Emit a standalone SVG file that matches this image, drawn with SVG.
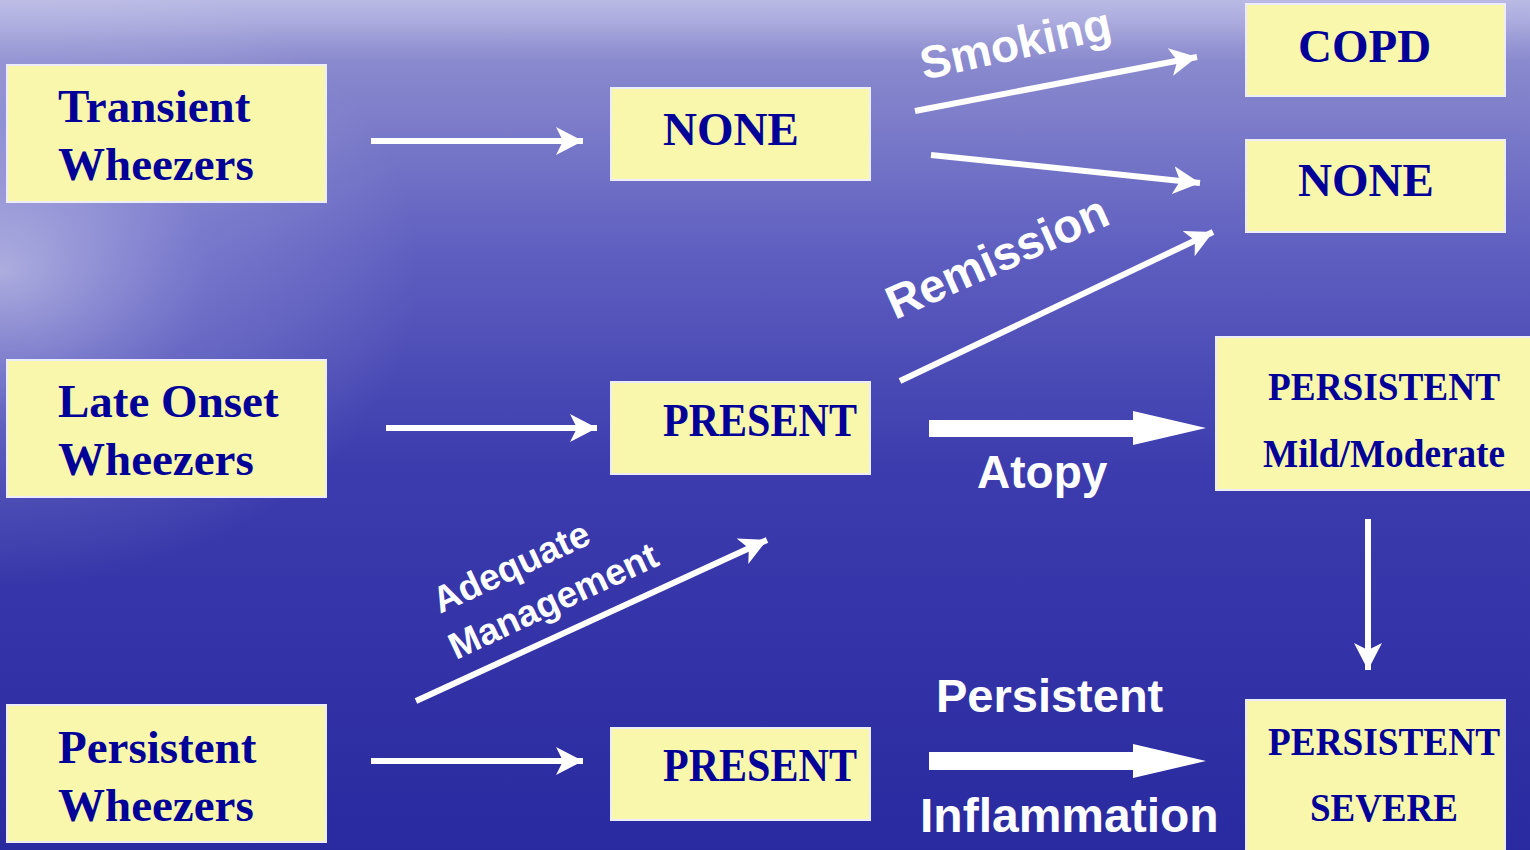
<svg xmlns="http://www.w3.org/2000/svg" width="1530" height="850" viewBox="0 0 1530 850">
<defs>
<linearGradient id="bg" x1="0" y1="0" x2="0" y2="1">
<stop offset="0" stop-color="#A4A4DA"/>
<stop offset="0.05" stop-color="#8E8ED0"/>
<stop offset="0.3" stop-color="#5E5EC0"/>
<stop offset="0.55" stop-color="#3C3CAE"/>
<stop offset="1" stop-color="#2A2AA0"/>
</linearGradient>
<radialGradient id="glow" cx="0" cy="270" r="420" gradientUnits="userSpaceOnUse" gradientTransform="translate(0,270) scale(1,0.75) translate(0,-270)">
<stop offset="0" stop-color="#FFFFFF" stop-opacity="0.5"/>
<stop offset="0.5" stop-color="#E0E0FF" stop-opacity="0.18"/>
<stop offset="1" stop-color="#FFFFFF" stop-opacity="0"/>
</radialGradient>
<linearGradient id="top" x1="0" y1="0" x2="0" y2="1">
<stop offset="0" stop-color="#C8C8EC" stop-opacity="0.6"/>
<stop offset="1" stop-color="#C8C8EC" stop-opacity="0"/>
</linearGradient>
<marker id="ah" markerUnits="userSpaceOnUse" markerWidth="30" markerHeight="30" refX="27" refY="14" orient="auto" viewBox="0 0 30 30">
<path d="M0,0 L27,14 L0,28 L7,14 Z" fill="#FFFFFF"/>
</marker>
<style>
.box{fill:#F9F7AC;stroke:#ECECFA;stroke-width:2}
.nt{font-family:"Liberation Serif","Times New Roman",serif;font-weight:bold;fill:#000099}
.lb{font-family:"Liberation Sans",Arial,sans-serif;font-weight:bold;fill:#FFFFFF}
.ln{stroke:#FFFFFF;stroke-width:6;fill:none;marker-end:url(#ah)}
.thick{fill:#FFFFFF}
</style>
</defs>
<rect x="0" y="0" width="1530" height="850" fill="url(#bg)"/>
<rect x="0" y="0" width="1530" height="60" fill="url(#top)"/>
<rect x="0" y="0" width="1530" height="850" fill="url(#glow)"/>

<g id="connectors">
<line class="ln" x1="371" y1="141" x2="583" y2="141"/>
<line class="ln" x1="386" y1="428" x2="597" y2="428"/>
<line class="ln" x1="371" y1="761" x2="583" y2="761"/>
<line class="ln" x1="915" y1="111" x2="1197" y2="57"/>
<line class="ln" x1="931" y1="155" x2="1200" y2="183"/>
<line class="ln" x1="900" y1="381" x2="1213" y2="232"/>
<line class="ln" x1="416" y1="701" x2="767" y2="540"/>
<line class="ln" x1="1368" y1="519" x2="1368" y2="670"/>
<polygon class="thick" points="929,420 1133,420 1133,411 1206,428 1133,445 1133,437 929,437"/>
<polygon class="thick" points="929,752 1133,752 1133,744 1206,761 1133,778 1133,770 929,770"/>
<text class="lb" font-size="46" transform="translate(924,80) rotate(-12.5)">Smoking</text>
<text class="lb" font-size="47" transform="translate(895,320) rotate(-24)">Remission</text>
<text class="lb" font-size="37" transform="translate(440,614) rotate(-25)">Adequate</text>
<text class="lb" font-size="37" transform="translate(456,660) rotate(-25)">Management</text>
<text class="lb" font-size="46" x="977" y="488">Atopy</text>
<text class="lb" font-size="47" x="936" y="712">Persistent</text>
<text class="lb" font-size="48" x="920" y="832">Inflammation</text>
</g>

<g id="transient">
<rect class="box" x="7" y="65" width="319" height="137"/>
<text class="nt" font-size="47" x="58" y="122">Transient</text>
<text class="nt" font-size="47" x="58" y="180">Wheezers</text>
</g>
<g id="late-onset">
<rect class="box" x="7" y="360" width="319" height="137"/>
<text class="nt" font-size="47" x="58" y="417">Late Onset</text>
<text class="nt" font-size="47" x="58" y="475">Wheezers</text>
</g>
<g id="persistent-wheezers">
<rect class="box" x="7" y="705" width="319" height="137"/>
<text class="nt" font-size="47" x="58" y="763">Persistent</text>
<text class="nt" font-size="47" x="58" y="821">Wheezers</text>
</g>
<g id="none-mid">
<rect class="box" x="611" y="88" width="259" height="92"/>
<text class="nt" font-size="47" x="663" y="145">NONE</text>
</g>
<g id="present-mid">
<rect class="box" x="611" y="382" width="259" height="92"/>
<text class="nt" font-size="46" x="663" y="436" textLength="194" lengthAdjust="spacingAndGlyphs">PRESENT</text>
</g>
<g id="present-bottom">
<rect class="box" x="611" y="728" width="259" height="92"/>
<text class="nt" font-size="46" x="663" y="781" textLength="194" lengthAdjust="spacingAndGlyphs">PRESENT</text>
</g>
<g id="copd">
<rect class="box" x="1246" y="4" width="259" height="92"/>
<text class="nt" font-size="47" x="1298" y="62">COPD</text>
</g>
<g id="none-right">
<rect class="box" x="1246" y="140" width="259" height="92"/>
<text class="nt" font-size="47" x="1298" y="196">NONE</text>
</g>
<g id="persistent-mild">
<rect class="box" x="1216" y="337" width="316" height="153"/>
<text class="nt" font-size="40" x="1268" y="400" textLength="232" lengthAdjust="spacingAndGlyphs">PERSISTENT</text>
<text class="nt" font-size="39" x="1263" y="467" textLength="242" lengthAdjust="spacingAndGlyphs">Mild/Moderate</text>
</g>
<g id="persistent-severe">
<rect class="box" x="1246" y="700" width="259" height="152"/>
<text class="nt" font-size="40" x="1268" y="755" textLength="232" lengthAdjust="spacingAndGlyphs">PERSISTENT</text>
<text class="nt" font-size="40" x="1310" y="821" textLength="148" lengthAdjust="spacingAndGlyphs">SEVERE</text>
</g>
</svg>
